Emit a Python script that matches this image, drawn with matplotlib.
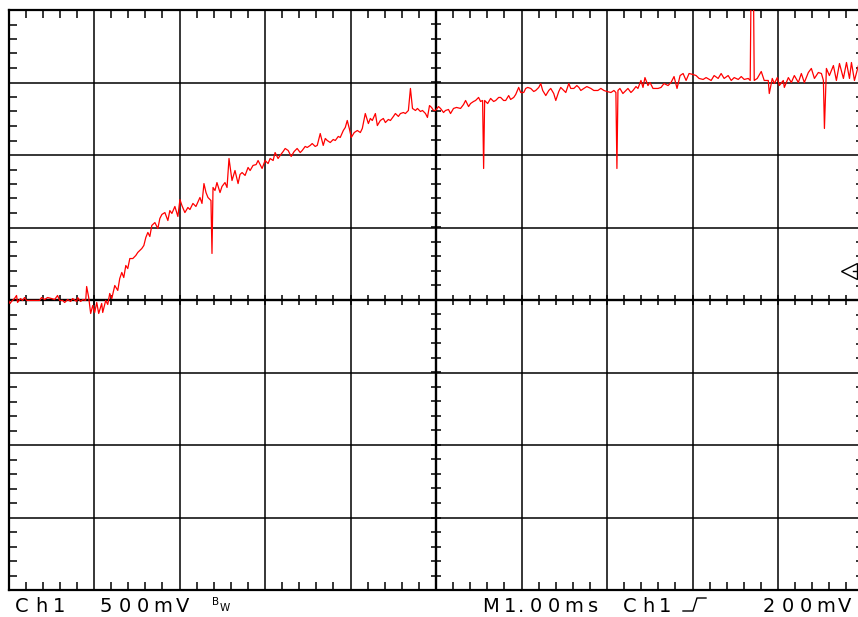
import numpy as np
import matplotlib.pyplot as plt
from matplotlib.ticker import MultipleLocator
from matplotlib.lines import Line2D

# scope settings
volts_per_div = 0.5
ms_per_div = 1.0
trig_level = 0.2   # V

# captured trace: time (ms), voltage (V)
t_ms = [0.0, 0.018, 0.035, 0.070, 0.094, 0.106, 0.141, 0.164, 0.188, 0.211, 0.305,
        0.363, 0.387, 0.422, 0.457, 0.504, 0.539, 0.574, 0.598, 0.633, 0.657, 0.692,
        0.727, 0.750, 0.797, 0.809, 0.844, 0.868, 0.903, 0.914, 0.938, 0.961, 0.985,
        1.008, 1.032, 1.055, 1.090, 1.102, 1.137, 1.161, 1.184, 1.208, 1.243, 1.278,
        1.301, 1.325, 1.348, 1.372, 1.395, 1.419, 1.454, 1.489, 1.512, 1.559, 1.583,
        1.606, 1.630, 1.653, 1.676, 1.712, 1.747, 1.770, 1.794, 1.829, 1.864, 1.887,
        1.911, 1.946, 1.981, 2.005, 2.028, 2.063, 2.098, 2.122, 2.157, 2.192, 2.239,
        2.263, 2.286, 2.310, 2.333, 2.368, 2.380, 2.392, 2.415, 2.438, 2.474, 2.497,
        2.532, 2.556, 2.579, 2.614, 2.649, 2.685, 2.708, 2.732, 2.767, 2.802, 2.826,
        2.860, 2.896, 2.919, 2.966, 3.001, 3.036, 3.060, 3.095, 3.118, 3.153, 3.177,
        3.212, 3.236, 3.271, 3.306, 3.341, 3.376, 3.412, 3.435, 3.470, 3.494, 3.529,
        3.552, 3.587, 3.611, 3.646, 3.681, 3.705, 3.728, 3.763, 3.798, 3.822, 3.857,
        3.880, 3.916, 3.939, 3.962, 3.986, 4.009, 4.044, 4.080, 4.115, 4.138, 4.173,
        4.209, 4.232, 4.255, 4.291, 4.314, 4.349, 4.384, 4.408, 4.443, 4.467, 4.502,
        4.525, 4.560, 4.584, 4.619, 4.642, 4.677, 4.701, 4.725, 4.760, 4.783, 4.818,
        4.842, 4.877, 4.900, 4.924, 4.948, 4.971, 4.994, 5.029, 5.053, 5.088, 5.111,
        5.146, 5.170, 5.205, 5.240, 5.287, 5.322, 5.346, 5.381, 5.404, 5.439, 5.463,
        5.498, 5.521, 5.545, 5.557, 5.569, 5.604, 5.639, 5.674, 5.698, 5.733, 5.756,
        5.791, 5.815, 5.850, 5.873, 5.909, 5.932, 5.967, 5.991, 6.026, 6.049, 6.073,
        6.108, 6.143, 6.166, 6.202, 6.225, 6.248, 6.284, 6.319, 6.342, 6.377, 6.401,
        6.436, 6.459, 6.495, 6.518, 6.553, 6.576, 6.612, 6.647, 6.671, 6.694, 6.729,
        6.764, 6.811, 6.846, 6.893, 6.928, 6.964, 6.999, 7.046, 7.081, 7.104, 7.116,
        7.128, 7.151, 7.186, 7.221, 7.245, 7.280, 7.304, 7.339, 7.362, 7.397, 7.421,
        7.444, 7.479, 7.503, 7.538, 7.597, 7.632, 7.667, 7.714, 7.749, 7.784, 7.819,
        7.855, 7.890, 7.925, 7.960, 8.007, 8.042, 8.077, 8.124, 8.159, 8.218, 8.253,
        8.300, 8.335, 8.370, 8.417, 8.453, 8.488, 8.535, 8.570, 8.605, 8.652, 8.675,
        8.687, 8.711, 8.722, 8.757, 8.804, 8.839, 8.886, 8.898, 8.933, 8.957, 8.992,
        9.015, 9.062, 9.074, 9.121, 9.156, 9.191, 9.238, 9.273, 9.308, 9.355, 9.390,
        9.426, 9.472, 9.508, 9.531, 9.543, 9.566, 9.601, 9.648, 9.683, 9.719, 9.765,
        9.801, 9.836, 9.859, 9.894, 9.941, 9.976]
v_ch1 = [-0.003, -0.024, -0.010, 0.010, 0.031, -0.017, 0.010, -0.003, 0.017, -0.003, -0.003,
         -0.003, 0.017, 0.003, 0.017, 0.010, 0.003, 0.031, -0.003, -0.003, -0.017, 0.003,
         -0.010, 0.010, -0.010, 0.017, -0.010, 0.003, -0.003, 0.093, 0.017, -0.093, -0.038,
         -0.086, -0.017, -0.093, -0.024, -0.086, -0.003, -0.031, 0.045, 0.010, 0.100, 0.066,
         0.148, 0.190, 0.155, 0.238, 0.217, 0.286, 0.286, 0.307, 0.328, 0.355, 0.376,
         0.431, 0.466, 0.438, 0.514, 0.534, 0.493, 0.562, 0.590, 0.603, 0.548, 0.617,
         0.597, 0.645, 0.576, 0.693, 0.652, 0.603, 0.638, 0.624, 0.666, 0.645, 0.707,
         0.666, 0.803, 0.741, 0.707, 0.686, 0.321, 0.776, 0.755, 0.810, 0.741, 0.783,
         0.810, 0.776, 0.976, 0.824, 0.893, 0.803, 0.866, 0.879, 0.859, 0.914, 0.893,
         0.928, 0.934, 0.962, 0.907, 0.962, 0.941, 0.976, 0.962, 1.017, 0.976, 0.997,
         1.024, 1.045, 1.031, 0.990, 1.024, 1.045, 1.017, 1.031, 1.059, 1.052, 1.066,
         1.079, 1.059, 1.066, 1.148, 1.066, 1.114, 1.100, 1.086, 1.107, 1.100, 1.128,
         1.121, 1.169, 1.190, 1.238, 1.183, 1.121, 1.155, 1.169, 1.155, 1.183, 1.286,
         1.217, 1.252, 1.238, 1.286, 1.203, 1.238, 1.252, 1.224, 1.245, 1.238, 1.266,
         1.286, 1.266, 1.286, 1.293, 1.286, 1.307, 1.459, 1.321, 1.307, 1.321, 1.300,
         1.307, 1.286, 1.259, 1.341, 1.328, 1.307, 1.307, 1.334, 1.321, 1.293, 1.307,
         1.314, 1.286, 1.321, 1.328, 1.321, 1.348, 1.376, 1.334, 1.355, 1.369, 1.376,
         1.397, 1.369, 1.376, 0.907, 1.376, 1.355, 1.390, 1.369, 1.376, 1.397, 1.397,
         1.376, 1.376, 1.410, 1.383, 1.397, 1.417, 1.466, 1.431, 1.431, 1.459, 1.466,
         1.459, 1.438, 1.445, 1.466, 1.493, 1.445, 1.410, 1.445, 1.459, 1.424, 1.376,
         1.438, 1.466, 1.445, 1.431, 1.493, 1.459, 1.459, 1.479, 1.466, 1.445, 1.459,
         1.472, 1.459, 1.445, 1.445, 1.459, 1.445, 1.438, 1.431, 1.445, 1.431, 0.907,
         1.445, 1.459, 1.424, 1.445, 1.459, 1.431, 1.445, 1.472, 1.459, 1.514, 1.466,
         1.534, 1.479, 1.500, 1.459, 1.459, 1.466, 1.493, 1.479, 1.500, 1.541, 1.459,
         1.548, 1.562, 1.514, 1.562, 1.555, 1.548, 1.528, 1.521, 1.534, 1.514, 1.548,
         1.528, 1.562, 1.528, 1.548, 1.514, 1.534, 1.521, 1.541, 1.521, 1.528, 1.514,
         2.300, 2.300, 1.514, 1.528, 1.576, 1.514, 1.514, 1.424, 1.528, 1.493, 1.534,
         1.479, 1.514, 1.466, 1.534, 1.500, 1.548, 1.500, 1.562, 1.500, 1.569, 1.597,
         1.528, 1.569, 1.562, 1.514, 1.183, 1.597, 1.548, 1.617, 1.514, 1.631, 1.528,
         1.638, 1.528, 1.638, 1.514, 1.617, 1.548]

W, H = 858, 617
fig = plt.figure(figsize=(W / 100, H / 100), dpi=100)
fig.patch.set_facecolor('white')

# graticule: 10 x 8 divisions, right edge falls just past the picture
ax = fig.add_axes([8.5 / W, 27 / H, 855 / W, 580 / H])
ax.set_xlim(0, 10 * ms_per_div)
ax.set_ylim(-4 * volts_per_div, 4 * volts_per_div)
ax.xaxis.set_major_locator(MultipleLocator(ms_per_div))
ax.yaxis.set_major_locator(MultipleLocator(volts_per_div))
ax.xaxis.set_minor_locator(MultipleLocator(ms_per_div / 5))
ax.yaxis.set_minor_locator(MultipleLocator(volts_per_div / 5))
ax.grid(True, which='major', color='black', lw=1.1)
ax.tick_params(which='major', length=0)
ax.tick_params(which='minor', direction='in', length=5.5, width=1.1, color='black',
               top=True, right=True)
ax.tick_params(labelbottom=False, labelleft=False)
for sp in ax.spines.values():
    sp.set_linewidth(1.6)

# centre axes, a bit heavier, with crossing minor ticks
ax.axhline(0, color='black', lw=1.7)
ax.axvline(5 * ms_per_div, color='black', lw=1.7)
xt = np.arange(0, 10.001, ms_per_div / 5)
yt = np.arange(-2, 2.001, volts_per_div / 5)
ax.vlines(xt, -0.035, 0.035, color='black', lw=1.1)
ax.hlines(yt, 5 - 0.06, 5 + 0.06, color='black', lw=1.1)

# trace
ax.plot(t_ms, v_ch1, color='#ff0000', lw=0.9, zorder=5)

# trigger level marker on right edge
ax.plot([9.83], [trig_level], marker='<', ms=12, mfc='white', mec='black', mew=1.0,
        zorder=6)
ax.plot([9.88, 9.99], [trig_level, trig_level], color='black', lw=1.0, zorder=6)


# status line at bottom, one character per cell like the scope screen
def put(chars, centers, y=612, size=14):
    for ch, cx in zip(chars, centers):
        fig.text(cx / W, 1 - y / H, ch, ha='center', va='baseline', fontsize=size,
                 family='DejaVu Sans', color='black')


put('Ch1', [22, 41, 59])
put('500mV', [106, 125, 143, 163, 183])
put('M1.00ms', [491, 510, 521, 536, 554, 574, 593])
put('Ch1', [630, 648, 665])
put('200mV', [769, 788, 806, 826, 845])
fig.text(216 / W, 1 - 605 / H, 'B', fontsize=7.5, ha='center', va='baseline')
fig.text(225 / W, 1 - 611 / H, 'W', fontsize=7.5, ha='center', va='baseline')

# rising edge trigger symbol
sx_ = [683, 693, 697, 706]
sy_ = [611, 611, 598, 598]
fig.add_artist(Line2D([x / W for x in sx_], [1 - y / H for y in sy_],
                      color='black', lw=1.0))

fig.savefig('out.png', dpi=100)
